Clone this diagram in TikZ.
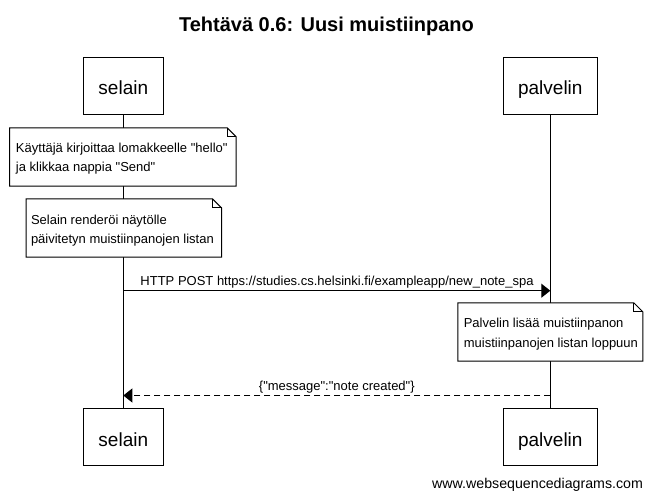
\documentclass[tikz,border=0pt]{standalone}
\usepackage{fontspec}
\setmainfont{Liberation Sans}[Ligatures=TeXOff]
\usetikzlibrary{arrows.meta}
\newcommand\drawnote[1]{%
  \draw[fill=white] (#1.north west) -- ([xshift=-9pt]#1.north east) -- ([yshift=-9pt]#1.north east) -- (#1.south east) -- (#1.south west) -- cycle;
  \draw ([xshift=-9pt]#1.north east) -- ([xshift=-9pt,yshift=-9pt]#1.north east) -- ([yshift=-9pt]#1.north east);}
\begin{document}
\begin{tikzpicture}[x=1pt,y=-1pt,line width=1pt,
  actor/.style={draw, fill=white, inner sep=0pt, minimum width=#1, minimum height=56.7pt,
    text height=18.6pt, text depth=0pt, font=\fontsize{19}{22}\selectfont},
  notebox/.style={draw=none, inner sep=0pt, minimum width=#1, minimum height=57.4pt},
  notetext/.style={anchor=base west, inner sep=0pt, font=\fontsize{13}{16}\selectfont},
  msgtext/.style={anchor=base, inner sep=0pt, font=\fontsize{13}{16}\selectfont},
  msg/.style={-{Triangle[length=9pt,width=14pt]}},
  reply/.style={msg, dash pattern=on 6pt off 4pt}]
\useasboundingbox (0,0) rectangle (652,500);
% title
\node[anchor=base, inner sep=0pt, font=\bfseries\fontsize{20}{24}\selectfont] (title) at (326.5,31.7) {Tehtävä 0.6: Uusi muistiinpano};
% actors
\node[actor=80pt] (s1) at (123.3,85.7) {selain};
\node[actor=94pt] (p1) at (550.3,85.7) {palvelin};
\node[actor=80pt] (s2) at (123.3,436.7) {selain};
\node[actor=94pt] (p2) at (550.3,436.7) {palvelin};
% lifelines
\draw (s1.south) -- (s2.north);
\draw (p1.south) -- (p2.north);
% notes
\node[notebox=225.7pt] (n1) at (122.85,157) {};
\drawnote{n1}
\node[notetext] (n1a) at (15.5,152.3) {Käyttäjä kirjoittaa lomakkeelle "hello"};
\node[notetext] (n1b) at (15.5,171.7) {ja klikkaa nappia "Send"};
\node[notebox=194.3pt] (n2) at (123.85,228) {};
\drawnote{n2}
\node[notetext] (n2a) at (30.5,224) {Selain renderöi näytölle};
\node[notetext] (n2b) at (30.5,243.5) {päivitetyn muistiinpanojen listan};
\node[notebox=184pt] (n3) at (550.3,332) {};
\drawnote{n3}
\node[notetext] (n3a) at (463.3,327.3) {Palvelin lisää muistiinpanon};
\node[notetext] (n3b) at (463.3,347) {muistiinpanojen listan loppuun};
% messages
\coordinate (m1a) at (123.3,290.7);
\coordinate (m1b) at (550.3,290.7);
\draw[msg] (m1a) -- (m1b);
\node[msgtext] (l1) at (337,285.3) {HTTP POST https://studies.cs.helsinki.fi/exampleapp/new\_note\_spa};
\coordinate (m2a) at (550.3,395.5);
\coordinate (m2b) at (123.3,395.5);
\draw[reply] (m2a) -- (m2b);
\node[msgtext] (l2) at (336.8,390) {\{"message":"note created"\}};
% watermark
\node[anchor=base west, inner sep=0pt, font=\fontsize{14.2}{17}\selectfont] (wm) at (431.7,488.3) {www.websequencediagrams.com};
\end{tikzpicture}
\end{document}
